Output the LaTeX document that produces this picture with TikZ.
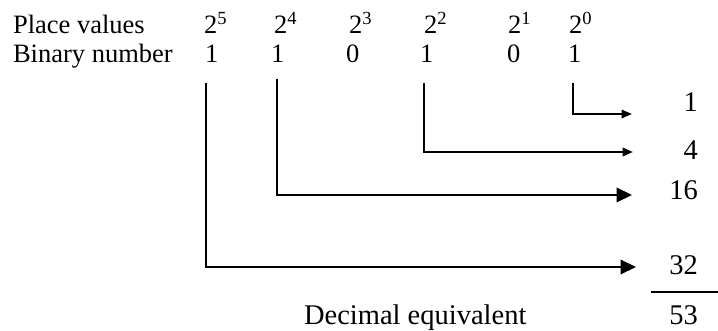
\documentclass[tikz,border=0pt]{standalone}
\usepackage{fontspec}
\setmainfont{Liberation Serif}
\usetikzlibrary{arrows.meta, positioning}

\newcommand{\pv}[1]{2\raisebox{9pt}{\fontsize{18.5}{18.5}\selectfont #1}}

\begin{document}
\begin{tikzpicture}[x=1pt, y=-1pt, line width=2.1pt,
		txt/.style={inner sep=0pt, anchor=base west, font=\fontsize{26.5}{30}\selectfont},
		res/.style={inner sep=0pt, anchor=base east, font=\fontsize{28.5}{32}\selectfont},
		big/.style={-{Triangle[length=15.5pt, width=14.5pt]}},
		small/.style={-{Triangle[length=10.5pt, width=8.5pt]}}]
			\useasboundingbox (0, 0) rectangle (718, 331);
			% Rows: place values and binary digits
			\node[txt](L1) at (12, 34){Place values};
			\node[txt](L2) at (12, 63){Binary number};
			\node[txt](P5) at (203, 34){\pv{5}};
			\node[txt](P4) at (273, 34){\pv{4}};
			\node[txt](P3) at (348, 34){\pv{3}};
			\node[txt](P2) at (423, 34){\pv{2}};
			\node[txt](P1) at (507, 34){\pv{1}};
			\node[txt](P0) at (568, 34){\pv{0}};
			\node[txt](B5) at (204, 63){1};
			\node[txt](B4) at (270, 63){1};
			\node[txt](B3) at (345, 63){0};
			\node[txt](B2) at (419, 63){1};
			\node[txt](B1) at (506, 63){0};
			\node[txt](B0) at (567, 63){1};
			% Values column
			\node[res](V1) at (699, 112){1};
			\node[res](V4) at (699, 160){4};
			\node[res](V16) at (699, 200){16};
			\node[res](V32) at (699, 275){32};
			\node[res](V53) at (699, 324){53};
			\node[res, anchor=base west](D1) at (303, 324){Decimal equivalent};
			% Connectors
			\coordinate (S5) at (206, 83);
			\coordinate (S4) at (277, 79);
			\coordinate (S2) at (424, 83);
			\coordinate (S0) at (573, 83);
			\coordinate (E5) at (636, 267);
			\coordinate (E4) at (632, 195);
			\coordinate (E2) at (633, 152);
			\coordinate (E0) at (632, 114);
			\draw[small] (S0) |- (E0);
			\draw[small] (S2) |- (E2);
			\draw[big] (S4) |- (E4);
			\draw[big] (S5) |- (E5);
			\draw (651, 292) -- (718, 292);
		\end{tikzpicture}
\end{document}
